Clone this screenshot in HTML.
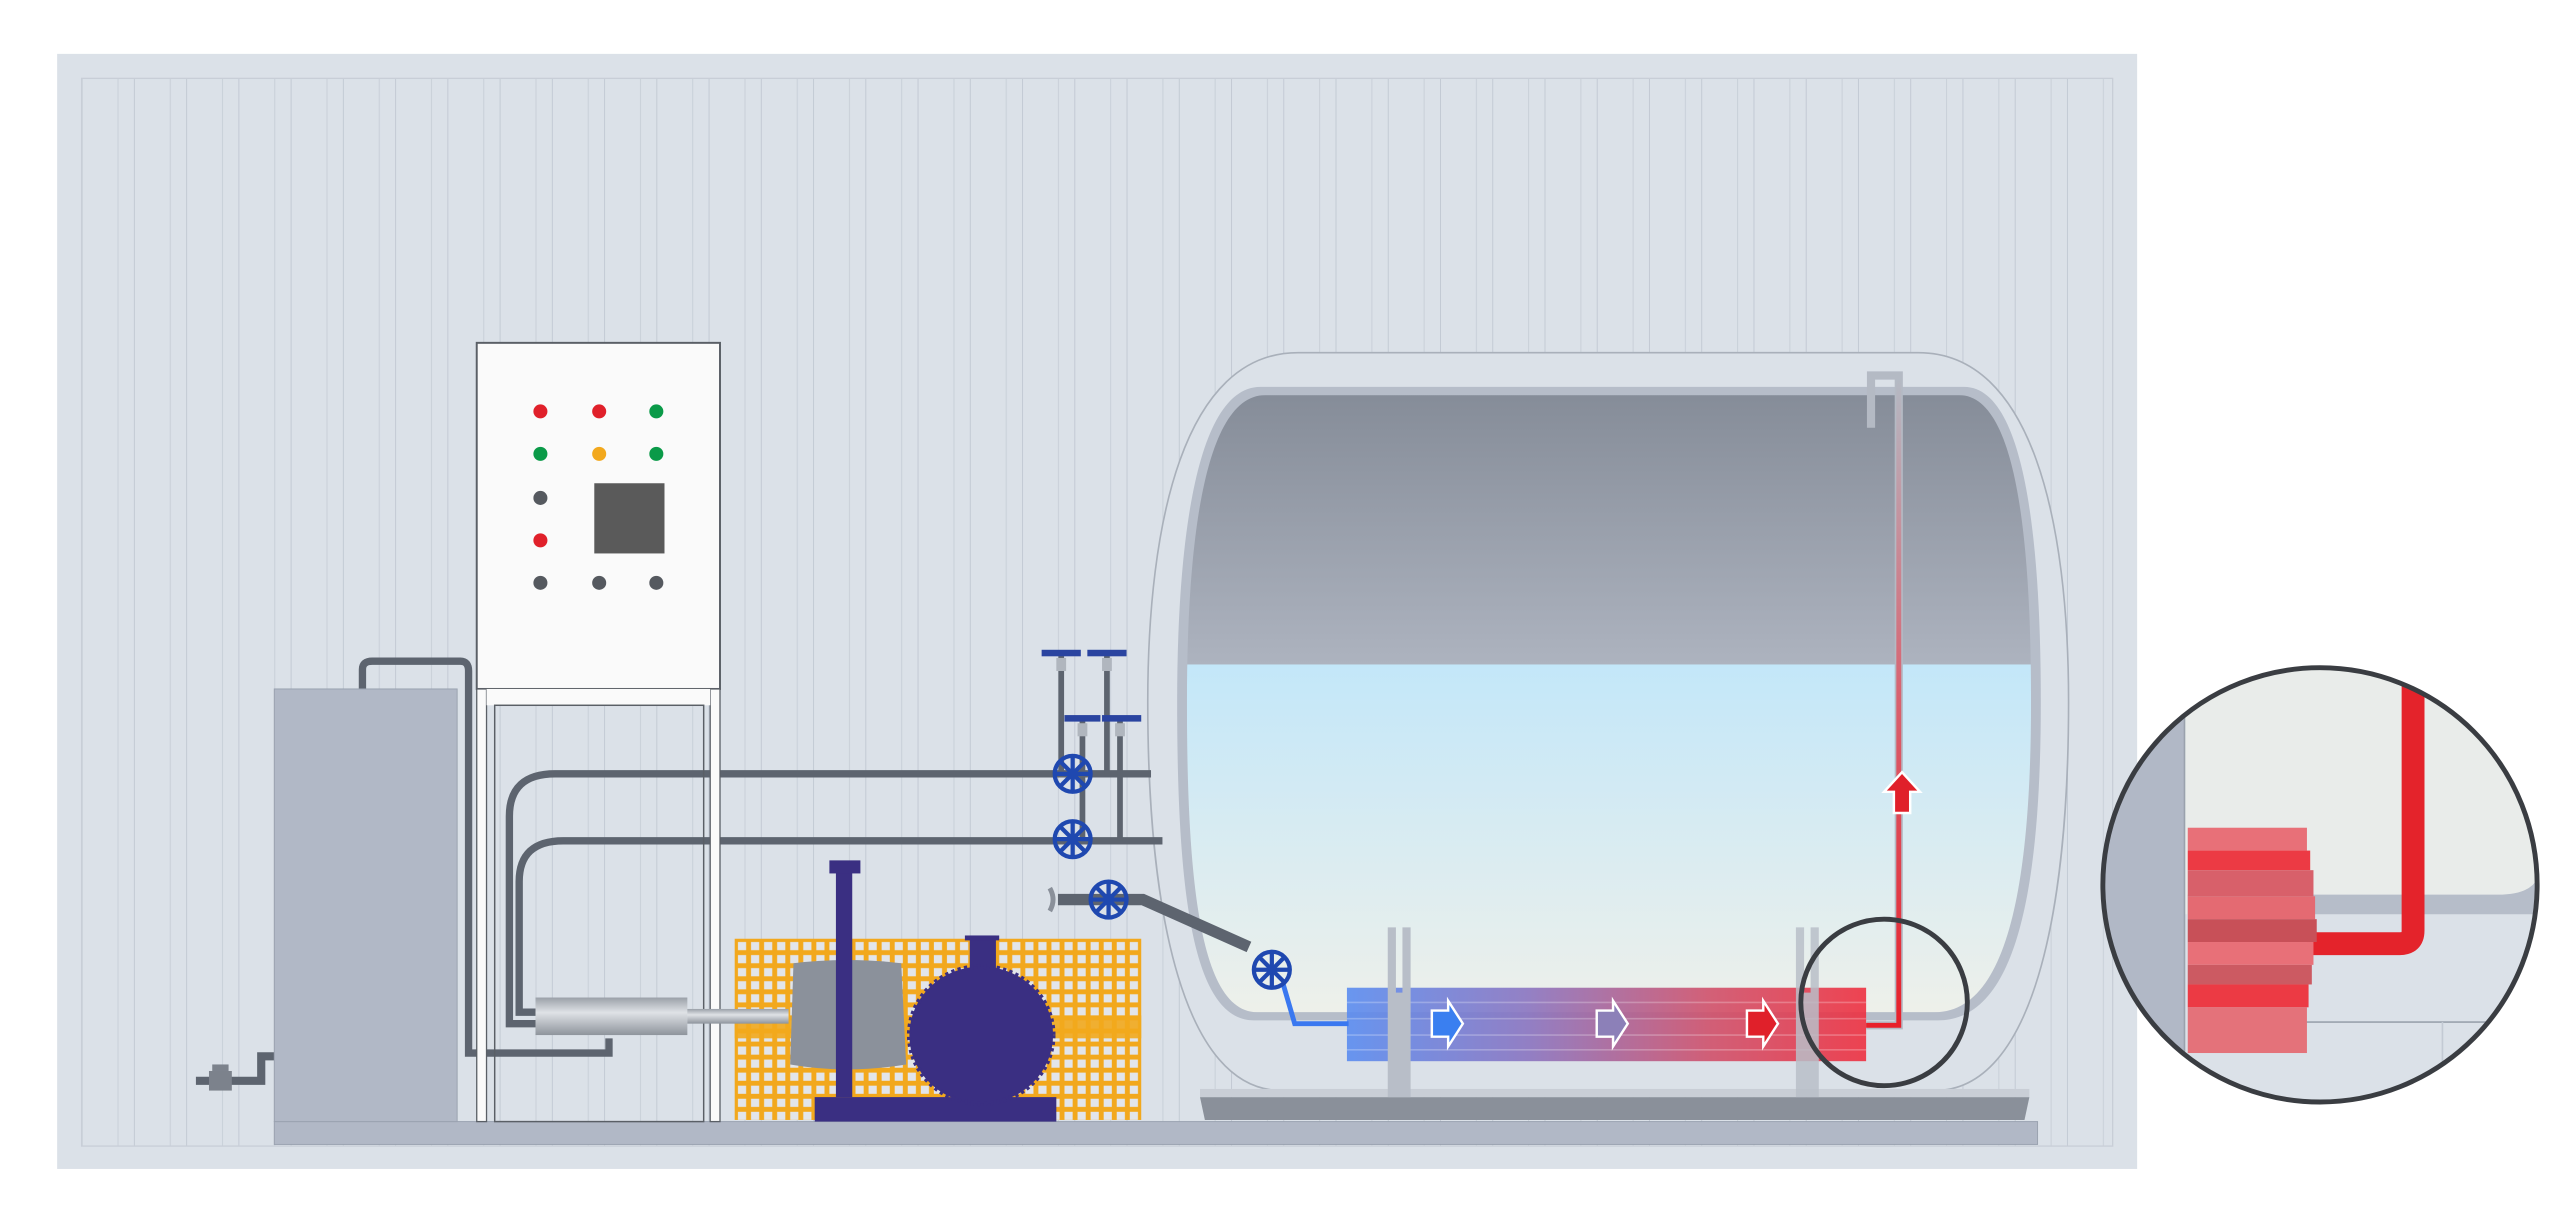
<!DOCTYPE html>
<html><head><meta charset="utf-8"><style>html,body{margin:0;padding:0;background:#fff}svg{display:block}</style></head><body>
<svg width="2560" height="1222" viewBox="0 0 1568 748.5" preserveAspectRatio="none" xmlns="http://www.w3.org/2000/svg">
<defs>
<pattern id="stripes" x="50" y="0" width="32" height="10" patternUnits="userSpaceOnUse">
<rect x="0" y="0" width="0.6" height="10" fill="#c3cad4"/><rect x="22" y="0" width="0.6" height="10" fill="#c8cfd8"/>
</pattern>
<pattern id="grid" x="450" y="575" width="8" height="8" patternUnits="userSpaceOnUse">
<rect width="8" height="8" fill="#f2a81d"/><rect x="2" y="2" width="5" height="5" fill="#e2e5ea"/>
</pattern>
<linearGradient id="gas" x1="0" y1="0" x2="0" y2="1"><stop offset="0" stop-color="#858c98"/><stop offset="1" stop-color="#adb3bf"/></linearGradient>
<linearGradient id="water" x1="0" y1="0" x2="0" y2="1"><stop offset="0" stop-color="#c3e7f9"/><stop offset="1" stop-color="#eef0ea"/></linearGradient>
<linearGradient id="heat" x1="0" y1="0" x2="1" y2="0"><stop offset="0" stop-color="#5a8cf0"/><stop offset="0.35" stop-color="#8a74c0"/><stop offset="0.7" stop-color="#d0506a"/><stop offset="1" stop-color="#ee3040"/></linearGradient>
<linearGradient id="rise" x1="0" y1="1" x2="0" y2="0"><stop offset="0" stop-color="#e8202a"/><stop offset="0.5" stop-color="#d9606e"/><stop offset="1" stop-color="#b4bac4"/></linearGradient>
<linearGradient id="cyl" x1="0" y1="0" x2="0" y2="1"><stop offset="0" stop-color="#9aa0a8"/><stop offset="0.4" stop-color="#dfe2e6"/><stop offset="1" stop-color="#8e949c"/></linearGradient>
<clipPath id="inner"><path d="M775,242 L1200,242 C1235,242 1244,330 1244,430 C1244,540 1230,620 1185,620 L770,620 C735,620 727,540 727,430 C727,330 738,242 775,242 Z"/></clipPath>
<clipPath id="zc"><circle cx="1421" cy="542" r="133"/></clipPath>
<g id="valve" fill="none" stroke="#1f48b0" stroke-width="2.6">
<circle r="11"/><line x1="-12" y1="0" x2="12" y2="0"/><line x1="0" y1="-12" x2="0" y2="12"/><line x1="-8.5" y1="-8.5" x2="8.5" y2="8.5"/><line x1="-8.5" y1="8.5" x2="8.5" y2="-8.5"/>
</g>
</defs>
<rect width="1568" height="748.5" fill="#fff"/>
<rect x="35" y="33" width="1274" height="683" fill="#dbe1e8"/>
<rect x="50" y="48" width="1244" height="654" fill="url(#stripes)" stroke="#c8ced7" stroke-width="0.8"/>

<!-- vessel -->
<path d="M795,216 L1175,216 C1245,216 1267,320 1267,430 C1267,560 1245,668 1185,668 L785,668 C725,668 703,560 703,430 C703,320 725,216 795,216 Z" fill="#dbe1e8" stroke="#a9b0ba" stroke-width="1"/>
<path d="M772,237 L1203,237 C1240,237 1250,330 1250,430 C1250,545 1235,625 1187,625 L768,625 C730,625 721,545 721,430 C721,330 733,237 772,237 Z" fill="#b6bdc9"/>
<g clip-path="url(#inner)">
<rect x="720" y="240" width="530" height="167" fill="url(#gas)"/>
<rect x="720" y="407" width="530" height="215" fill="url(#water)"/>
</g>
<!-- support -->
<path d="M735,672 L1243,672 L1240,686 L738,686 Z" fill="#8a909a"/>
<rect x="735" y="667" width="508" height="5" fill="#c9ced6"/>
<rect x="168" y="687" width="1080" height="14" fill="#b1b8c6" stroke="#9aa2b0" stroke-width="0.6"/>

<!-- heater -->
<rect x="825" y="605" width="318" height="45" fill="url(#heat)" opacity="0.9"/>
<g stroke="#ffffff" stroke-opacity="0.25" stroke-width="1"><line x1="825" y1="614" x2="1143" y2="614"/><line x1="825" y1="624" x2="1143" y2="624"/><line x1="825" y1="634" x2="1143" y2="634"/><line x1="825" y1="643" x2="1143" y2="643"/></g>
<path d="M850,568 h5 v40 h4 v-40 h5 v104 h-14z" fill="#b8bec8"/>
<path d="M1100,568 h5 v40 h4 v-40 h5 v104 h-14z" fill="#b8bec8" opacity="0.85"/>
<path d="M877,619 h10 v-6 l9,14 -9,14 v-6 h-10z" fill="#3a7ff0" stroke="#fff" stroke-width="1.5"/>
<path d="M978,619 h10 v-6 l9,14 -9,14 v-6 h-10z" fill="#8c80b8" stroke="#fff" stroke-width="1.5"/>
<path d="M1070,619 h10 v-6 l9,14 -9,14 v-6 h-10z" fill="#e0202a" stroke="#fff" stroke-width="1.5"/>
<!-- blue inlet -->
<path d="M786,603 L793,627 L826,627" fill="none" stroke="#3a78f0" stroke-width="3"/>
<use href="#valve" x="779" y="594"/>
<!-- red riser -->
<path d="M1143,628 L1163,628 L1163,230 L1146,230 L1146,262" fill="none" stroke="#b4bac4" stroke-width="5"/>
<path d="M1143,628 L1163,628 L1163,232" fill="none" stroke="url(#rise)" stroke-width="3"/>
<path d="M1165,473 l-11,12 h6 v13 h10 v-13 h6 z" fill="#e0202a" stroke="#fff" stroke-width="1.5"/>
<circle cx="1154" cy="614" r="51" fill="none" stroke="#3a3d42" stroke-width="3"/>

<!-- zoom circle -->
<g clip-path="url(#zc)">
<rect x="1288" y="408" width="268" height="268" fill="#e9ecea"/>
<path d="M1340,548 L1530,548 Q1556,548 1556,530 L1556,580 L1340,580 Z" fill="#b6bdc9"/>
<rect x="1330" y="560" width="230" height="116" fill="#dbe1e8"/>
<line x1="1410" y1="626" x2="1556" y2="626" stroke="#9aa2ad"/>
<line x1="1496" y1="626" x2="1496" y2="676" stroke="#c3cad4"/>
<rect x="1288" y="408" width="50" height="268" fill="#b1b8c6"/>
<line x1="1338" y1="408" x2="1338" y2="676" stroke="#9aa2ad"/>
<path d="M1413,578 L1470,578 Q1478,578 1478,570 L1478,408" fill="none" stroke="#e4232b" stroke-width="14"/>
<rect x="1340" y="507" width="73" height="14" fill="#e87078"/><rect x="1340" y="521" width="75" height="12" fill="#ec3a44"/>
<rect x="1340" y="533" width="77" height="16" fill="#d8606a"/><rect x="1340" y="549" width="78" height="14" fill="#e46a72"/>
<rect x="1340" y="563" width="79" height="14" fill="#c85058"/><rect x="1340" y="577" width="77" height="14" fill="#e87078"/>
<rect x="1340" y="591" width="76" height="12" fill="#cc5a62"/><rect x="1340" y="603" width="74" height="14" fill="#ec3a44"/>
<rect x="1340" y="617" width="73" height="28" fill="#e4727a"/>
</g>
<circle cx="1421" cy="542" r="133" fill="none" stroke="#3a3d42" stroke-width="3"/>

<!-- pipes -->
<g fill="none" stroke="#5d646f" stroke-width="4.5">
<path d="M705,474 L340,474 Q312,474 312,500 L312,627 L328,627"/>
<path d="M712,515 L345,515 Q318,515 318,540 L318,620 L328,620"/>
<path d="M222,422 L222,410 Q222,405 228,405 L282,405 Q287,405 287,411 L287,645 L373,645 L373,636"/>
<path d="M650,400 L650,474 M678,400 L678,474 M663,440 L663,515 M686,440 L686,515" stroke-width="3.5"/>
<path d="M648,551 L700,551 L765,580" stroke-width="7"/>
<path d="M168,647 L160,647 L160,662 L120,662" stroke-width="5"/>
</g>
<g fill="#2a44a0"><rect x="638" y="398" width="24" height="4"/><rect x="666" y="398" width="24" height="4"/><rect x="652" y="438" width="22" height="4"/><rect x="675" y="438" width="24" height="4"/></g>
<g fill="#b0b6be"><rect x="647" y="403" width="6" height="8"/><rect x="675" y="403" width="6" height="8"/><rect x="660" y="443" width="6" height="8"/><rect x="683" y="443" width="6" height="8"/></g>
<path d="M643,544 Q647,551 643,558" stroke="#8a909a" stroke-width="3" fill="none"/>
<use href="#valve" x="657" y="474"/><use href="#valve" x="657" y="514"/><use href="#valve" x="679" y="551"/>
<rect x="128" y="656" width="14" height="12" fill="#7c828c"/><rect x="130" y="652" width="10" height="4" fill="#7c828c"/>

<!-- tank -->
<rect x="168" y="422" width="112" height="265" fill="#b1b8c6" stroke="#9aa2b0" stroke-width="0.6"/>

<!-- cabinet -->
<rect x="292" y="210" width="149" height="212" fill="#fafafa" stroke="#5a5f66" stroke-width="1.2"/>
<rect x="292" y="422" width="6" height="265" fill="#fafafa" stroke="#5a5f66" stroke-width="0.8"/>
<rect x="435" y="422" width="6" height="265" fill="#fafafa" stroke="#5a5f66" stroke-width="0.8"/>
<rect x="298" y="422" width="137" height="10" fill="#fafafa"/>
<rect x="303" y="432" width="128" height="255" fill="none" stroke="#5a5f66" stroke-width="0.9"/>
<g>
<circle cx="331" cy="252" r="4.3" fill="#e0202a"/><circle cx="367" cy="252" r="4.3" fill="#e0202a"/><circle cx="402" cy="252" r="4.3" fill="#0a9a48"/>
<circle cx="331" cy="278" r="4.3" fill="#0a9a48"/><circle cx="367" cy="278" r="4.3" fill="#f2a81d"/><circle cx="402" cy="278" r="4.3" fill="#0a9a48"/>
<circle cx="331" cy="305" r="4.3" fill="#55595f"/><circle cx="331" cy="331" r="4.3" fill="#e0202a"/>
<circle cx="331" cy="357" r="4.3" fill="#55595f"/><circle cx="367" cy="357" r="4.3" fill="#55595f"/><circle cx="402" cy="357" r="4.3" fill="#55595f"/>
<rect x="364" y="296" width="43" height="43" fill="#5a5a5a"/>
</g>

<!-- pump -->
<rect x="450" y="575" width="249" height="111" fill="url(#grid)"/>
<rect x="450" y="622" width="249" height="14" fill="#f2a81d" opacity="0.9"/>
<rect x="328" y="611" width="93" height="23" fill="url(#cyl)"/>
<rect x="421" y="618" width="62" height="9" fill="url(#cyl)"/>
<path d="M486,590 Q518,586 552,590 L555,652 Q518,658 484,652 Z" fill="#8b919b"/>
<rect x="499" y="672" width="148" height="15" fill="#3a2f82"/>
<rect x="512" y="532" width="10" height="140" fill="#3a2f82"/><rect x="508" y="527" width="19" height="8" fill="#3a2f82"/>
<rect x="594" y="573" width="16" height="24" fill="#3a2f82"/><rect x="591" y="573" width="21" height="3" fill="#3a2f82"/>
<ellipse cx="601" cy="634" rx="44" ry="42" fill="#3a2f82" stroke="#3a2f82" stroke-width="3" stroke-dasharray="2 2"/>
</svg>
</body></html>
